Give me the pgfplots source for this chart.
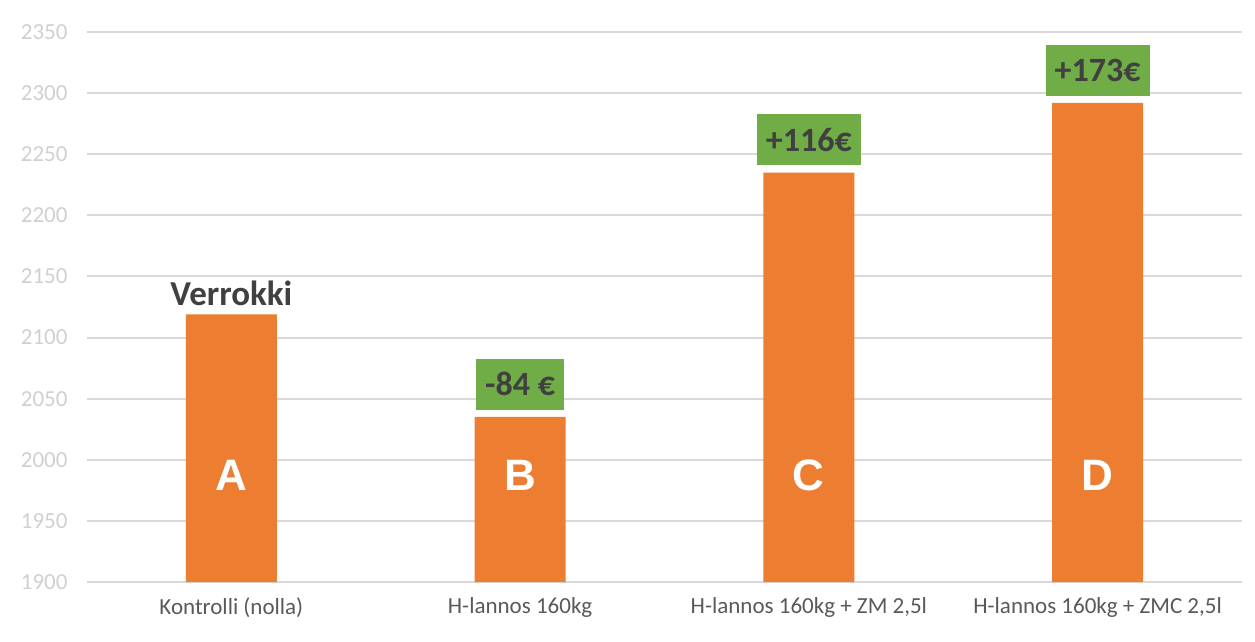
\documentclass[border=0pt]{standalone}
\usepackage{pgfplots}
\pgfplotsset{compat=1.18}
\usepackage{fontspec}
\setmainfont{Carlito}
\newfontfamily\arialfont{Liberation Sans}
\definecolor{barorange}{HTML}{ED7D31}
\definecolor{boxgreen}{HTML}{70AD47}
\definecolor{gridgray}{HTML}{D9D9D9}
\definecolor{ticklab}{HTML}{D0D0D0}
\definecolor{darktext}{HTML}{404040}
\definecolor{xlab}{HTML}{595959}
\pgfplotstableread{
x y
0 2119
1 2035
2 2235
3 2292
}\yielddata
\begin{document}
\begin{tikzpicture}
\useasboundingbox (-87bp,-60bp) rectangle (1168bp,582bp);
\begin{axis}[
  at={(0,0)}, anchor=south west,
  scale only axis, width=1155bp, height=550bp,
  xmin=-0.5, xmax=3.5, ymin=1900, ymax=2350,
  ytick={1900,1950,...,2350},
  xtick={0,1,2,3},
  xticklabels={Kontrolli (nolla), H-lannos 160kg, H-lannos 160kg + ZM 2{,}5l, H-lannos 160kg + ZMC 2{,}5l},
  ymajorgrids,
  grid style={color=gridgray, line width=2bp},
  axis line style={draw=none},
  major tick length=0pt,
  /pgf/number format/assume math mode=true,
  /pgf/number format/1000 sep={},
  yticklabel style={font=\fontsize{23bp}{26bp}\selectfont, text=ticklab, xshift=-16bp},
  xticklabel style={font=\fontsize{23bp}{26bp}\selectfont, text=xlab, yshift=-12bp},
  clip=false,
]
\addplot[ybar, bar width=0.315, fill=barorange, draw=none] table[x=x,y=y] {\yielddata};
\node[anchor=south, text=darktext, font=\bfseries\fontsize{35bp}{38bp}\selectfont, inner sep=0pt, yshift=8bp] at (axis cs:0,2119) {Verrokki};
\node[anchor=south, fill=boxgreen, text=darktext, font=\bfseries\fontsize{34bp}{38bp}\selectfont, inner xsep=9bp, minimum height=51bp, yshift=7bp] at (axis cs:1,2035) {-84 €};
\node[anchor=south, fill=boxgreen, text=darktext, font=\bfseries\fontsize{34bp}{38bp}\selectfont, inner xsep=9bp, minimum height=51bp, yshift=7bp] at (axis cs:2,2235) {+116€};
\node[anchor=south, fill=boxgreen, text=darktext, font=\bfseries\fontsize{34bp}{38bp}\selectfont, inner xsep=9bp, minimum height=51bp, yshift=7bp] at (axis cs:3,2292) {+173€};
\node[text=white, font=\arialfont\bfseries\fontsize{44bp}{48bp}\selectfont] at (axis cs:0,1987) {A};
\node[text=white, font=\arialfont\bfseries\fontsize{44bp}{48bp}\selectfont] at (axis cs:1,1987) {B};
\node[text=white, font=\arialfont\bfseries\fontsize{44bp}{48bp}\selectfont] at (axis cs:2,1987) {C};
\node[text=white, font=\arialfont\bfseries\fontsize{44bp}{48bp}\selectfont] at (axis cs:3,1987) {D};
\end{axis}
\end{tikzpicture}
\end{document}
